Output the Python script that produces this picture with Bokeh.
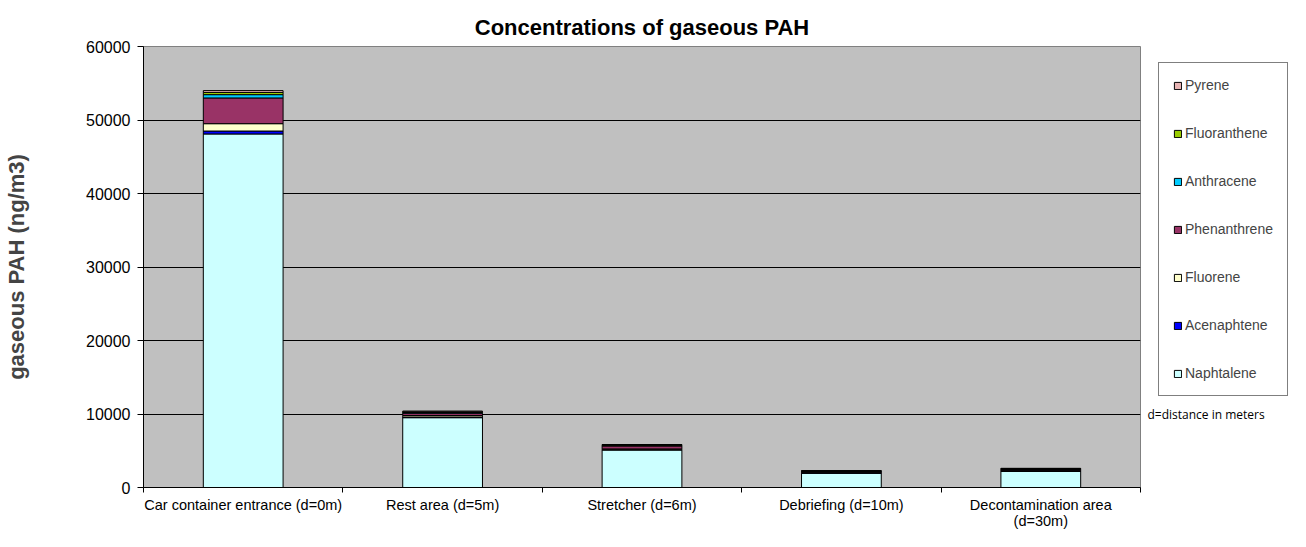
from bokeh.plotting import figure
from bokeh.layouts import row
from bokeh.models import (ColumnDataSource, Legend, LegendItem, FixedTicker,
                          NumeralTickFormatter, Range1d, Label)
from bokeh.embed import file_html
from bokeh.resources import INLINE

# ---- data ----
categories = ["Car container entrance (d=0m)", "Rest area (d=5m)", "Stretcher (d=6m)",
              "Debriefing (d=10m)", "Decontamination area\n(d=30m)"]
species = ["Naphtalene", "Acenaphtene", "Fluorene", "Phenanthrene",
           "Anthracene", "Fluoranthene", "Pyrene"]
naphtalene   = [48100, 9500, 5100, 1950, 2200]
acenaphtene  = [400, 100, 50, 30, 40]
fluorene     = [1000, 200, 100, 50, 60]
phenanthrene = [3500, 300, 400, 150, 170]
anthracene   = [450, 100, 100, 50, 50]
fluoranthene = [300, 100, 50, 40, 50]
pyrene       = [250, 100, 50, 30, 40]
colors = ["#CCFFFF", "#0000FF", "#FFFFCC", "#993366", "#00CCFF", "#99CC00", "#E8B4B4"]
y_ticks = [0, 10000, 20000, 30000, 40000, 50000, 60000]
note_text = "d=distance in meters"
note_level = 10000

xpos = [i + 0.5 for i in range(len(categories))]
data = dict(x=xpos, Naphtalene=naphtalene, Acenaphtene=acenaphtene,
            Fluorene=fluorene, Phenanthrene=phenanthrene,
            Anthracene=anthracene, Fluoranthene=fluoranthene, Pyrene=pyrene)
src = ColumnDataSource(data)

FONT = "Liberation Sans"
H = 531

p = figure(width=1142, height=H, output_backend="svg", toolbar_location=None,
           x_range=Range1d(0, len(categories)), y_range=Range1d(0, 60000),
           min_border_left=143, min_border_right=2, min_border_top=46,
           min_border_bottom=38, title="Concentrations of gaseous PAH")
p.background_fill_color = "#C0C0C0"
p.border_fill_color = "white"
p.outline_line_color = "#808080"

p.title.align = "center"
p.title.vertical_align = "top"
p.title.text_font = FONT
p.title.text_font_size = "22px"
p.title.text_font_style = "bold"
p.title.text_color = "black"
p.title.standoff = 10

p.vbar_stack(species, x="x", width=0.4, source=src, color=colors,
             line_color="black", line_width=1)

# axes
p.yaxis.ticker = FixedTicker(ticks=y_ticks)
p.yaxis.formatter = NumeralTickFormatter(format="0")
p.yaxis.axis_label = "gaseous PAH (ng/m3)"
p.yaxis.axis_label_text_font = FONT
p.yaxis.axis_label_text_font_size = "22px"
p.yaxis.axis_label_text_font_style = "bold"
p.yaxis.axis_label_standoff = 54
p.yaxis.major_label_text_font = FONT
p.yaxis.major_label_text_font_size = "16px"
p.yaxis.major_label_text_color = "black"
p.yaxis.major_tick_in = 0
p.yaxis.major_tick_out = 6
p.yaxis.minor_tick_line_color = None
p.yaxis.axis_line_color = "black"
p.yaxis.major_label_standoff = 7

p.xaxis.ticker = FixedTicker(ticks=xpos, minor_ticks=list(range(len(categories) + 1)))
p.xaxis.major_label_overrides = {x: c for x, c in zip(xpos, categories)}
p.xaxis.major_label_text_font = FONT
p.xaxis.major_label_text_font_size = "14.5px"
p.xaxis.major_label_text_line_height = 1.0
p.xaxis.major_label_text_color = "black"
p.xaxis.major_tick_line_color = None
p.xaxis.minor_tick_in = 0
p.xaxis.minor_tick_out = 5
p.xaxis.minor_tick_line_color = "black"
p.xaxis.axis_line_color = "black"
p.xaxis.major_label_standoff = 3

p.xgrid.grid_line_color = None
p.ygrid.grid_line_color = "black"
p.ygrid.grid_line_width = 1

# ---- side panel holding the legend and the note (frame is aligned with the main one) ----
side = figure(width=148, height=H, output_backend="svg", toolbar_location=None,
              x_range=Range1d(-900, -752), y_range=Range1d(0, 60000),
              x_axis_type=None, y_axis_type=None, min_border=0)
side.outline_line_color = None
side.grid.grid_line_color = None
side.background_fill_color = "white"
side.border_fill_color = "white"
# same series, lying far outside this panel's visible x range; they only serve as legend glyphs
side_rs = side.vbar_stack(species, x="x", width=0.4, source=ColumnDataSource(data),
                          color=colors, line_color="black", line_width=1)

items = [LegendItem(label=s, renderers=[r]) for s, r in zip(species, side_rs)][::-1]
legend = Legend(items=items, location="top_left")
legend.label_text_font = FONT
legend.label_text_font_size = "14px"
legend.glyph_width = 9
legend.glyph_height = 9
legend.label_height = 9
legend.label_width = 80
legend.spacing = 32
legend.padding = 14
legend.margin = 16
legend.label_standoff = 3
legend.border_line_color = "black"
legend.border_line_width = 1
legend.background_fill_color = "white"
legend.background_fill_alpha = 1
side.add_layout(legend, "center")

note = Label(x=-895, y=note_level, text=note_text, text_font="Open Sans",
             text_font_size="12px", text_baseline="middle", text_color="black")
side.add_layout(note)

layout = row(p, side, spacing=0)
open("out.html", "w").write(file_html(layout, INLINE))
